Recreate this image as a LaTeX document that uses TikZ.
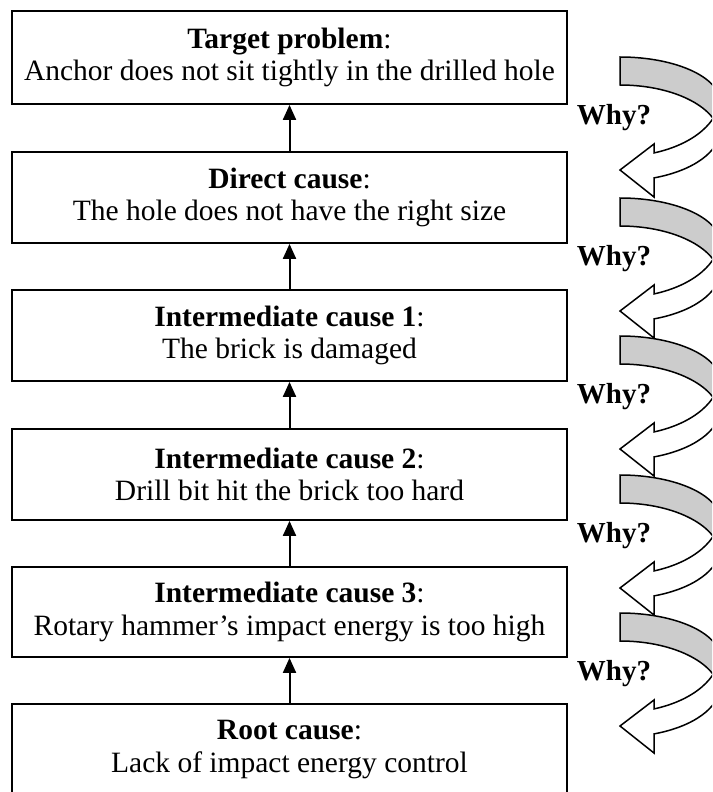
\documentclass[tikz,border=0pt]{standalone}
\usepackage{fontspec}
\setmainfont{Liberation Serif}
\usetikzlibrary{arrows.meta}
\definecolor{backgray}{RGB}{204,204,204}
\tikzset{
  box/.style={draw, line width=1.8pt, minimum width=555pt, inner sep=0pt,
    align=center, font=\fontsize{29.5}{32.5}\selectfont},
  upconn/.style={line width=2pt, -{Triangle[length=15pt,width=13pt]}},
  whylabel/.style={font=\fontsize{29}{32}\selectfont\bfseries, anchor=base},
  backband/.style={fill=backgray, draw=black, line width=1.5pt},
  frontband/.style={fill=white, draw=black, line width=1.5pt, line join=miter},
  whyarrow/.pic={
    \path[backband] (0,0) arc[start angle=-90, end angle=0, x radius=100, y radius=45]
      -- (100,80.6) arc[start angle=0, end angle=-90, x radius=100, y radius=52.6] -- cycle;
    \path[frontband] (100,39.5) arc[start angle=0, end angle=70.1, x radius=100, y radius=60]
      -- (34,87) -- (0,113) -- (34,140) -- (34,120.9)
      arc[start angle=70.1, end angle=0, x radius=100, y radius=51] -- cycle;
  }
}
\begin{document}
\begin{tikzpicture}[x=1pt, y=-1pt]
\clip (0,0) rectangle (712,792);
\fill[white] (0,0) rectangle (712,792);

\node[box, minimum height=93pt] (b1) at (289.5,57.5) {\textbf{Target problem}:\\Anchor does not sit tightly in the drilled hole};
\node[box, minimum height=91pt] (b2) at (289.5,197.5) {\textbf{Direct cause}:\\The hole does not have the right size};
\node[box, minimum height=91pt] (b3) at (289.5,335.5) {\textbf{Intermediate cause 1}:\\The brick is damaged};
\node[box, minimum height=91pt] (b4) at (289.5,474.5) {\textbf{Intermediate cause 2}:\\Drill bit hit the brick too hard};
\node[box, minimum height=90pt] (b5) at (289.5,612) {\textbf{Intermediate cause 3}:\\Rotary hammer’s impact energy is too high};
\node[box, minimum height=91pt] (b6) at (289.5,749.5) {\textbf{Root cause}:\\Lack of impact energy control};

\draw[upconn] (b2.north) -- (b1.south);
\draw[upconn] (b3.north) -- (b2.south);
\draw[upconn] (b4.north) -- (b3.south);
\draw[upconn] (b5.north) -- (b4.south);
\draw[upconn] (b6.north) -- (b5.south);

\pic at (620,57) {whyarrow};
\pic at (620,198) {whyarrow};
\pic at (620,336) {whyarrow};
\pic at (620,475) {whyarrow};
\pic at (620,613) {whyarrow};

\node[whylabel] (w1) at (614,124) {Why?};
\node[whylabel] (w2) at (614,265) {Why?};
\node[whylabel] (w3) at (614,403) {Why?};
\node[whylabel] (w4) at (614,542) {Why?};
\node[whylabel] (w5) at (614,680) {Why?};
\end{tikzpicture}
\end{document}
